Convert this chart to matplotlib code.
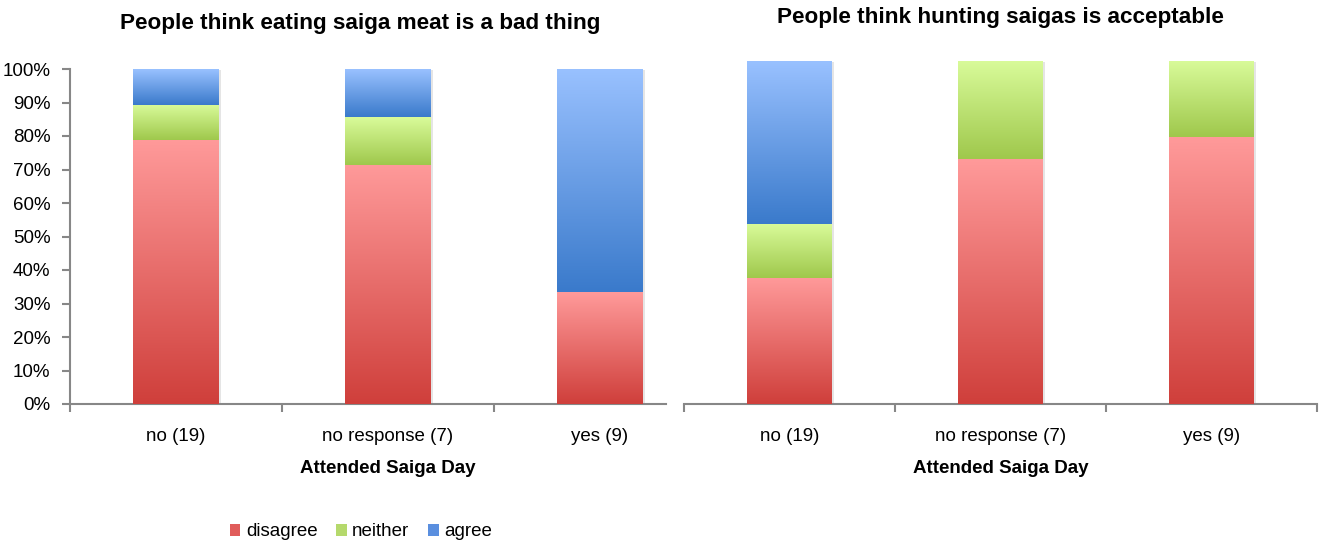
import matplotlib
matplotlib.use("Agg")
import matplotlib.pyplot as plt
import numpy as np
from matplotlib.colors import LinearSegmentedColormap
from matplotlib.patches import Patch

categories = ["no (19)", "no response (7)", "yes (9)"]
series_names = ["disagree", "neither", "agree"]

eating_disagree = [78.9, 71.4, 33.3]
eating_neither = [10.5, 14.3, 0.0]
eating_agree = [10.6, 14.3, 66.7]

hunting_disagree = [36.8, 71.4, 77.8]
hunting_neither = [15.8, 28.6, 22.2]
hunting_agree = [47.4, 0.0, 0.0]

title_left = "People think eating saiga meat is a bad thing"
title_right = "People think hunting saigas is acceptable"
xlabel = "Attended Saiga Day"
yticks = [0, 10, 20, 30, 40, 50, 60, 70, 80, 90, 100]

plt.rcParams['font.family'] = ['Liberation Sans', 'DejaVu Sans']

# gradient colours (bottom, top)
grad = {
    "disagree": ("#cf3f3b", "#ff9a9a"),
    "neither": ("#9fc84c", "#d9fb9a"),
    "agree": ("#3a7acb", "#99c1ff"),
}
legend_colors = {"disagree": "#e05c5a", "neither": "#b5d96c", "agree": "#5a8fdf"}
spine_col = "#878787"

W, H = 1320, 542
fig = plt.figure(figsize=(W / 100, H / 100), dpi=100)


def draw_stack(ax, data, width):
    x = np.arange(len(categories))
    bottom = np.zeros(len(categories))
    for name, vals in zip(series_names, data):
        vals = np.array(vals)
        # subtle shadow
        ax.bar(x + 0.012, vals, width, bottom=bottom - 0.4, color="#000000",
               alpha=0.10, zorder=1, linewidth=0)
        bars = ax.bar(x, vals, width, bottom=bottom, facecolor="none",
                      edgecolor="none", zorder=2)
        cmap = LinearSegmentedColormap.from_list(name, list(grad[name]))
        g = np.linspace(0, 1, 256).reshape(-1, 1)
        for b, v in zip(bars, vals):
            if v <= 0:
                continue
            x0, y0 = b.get_x(), b.get_y()
            w, h = b.get_width(), b.get_height()
            im = ax.imshow(g, cmap=cmap, origin="lower", aspect="auto",
                           extent=[x0, x0 + w, y0, y0 + h], zorder=3,
                           interpolation="bilinear")
            im.set_clip_path(b)
        bottom = bottom + vals
    ax.set_xlim(-0.5, 2.5)
    ax.set_ylim(0, 100)
    ax.set_xticks(x)
    ax.set_xticklabels(categories, fontsize=13.5)
    ax.tick_params(axis="x", which="major", length=0, pad=17)
    ax.set_xticks([-0.5, 0.5, 1.5, 2.5], minor=True)
    ax.tick_params(axis="x", which="minor", length=6, color=spine_col, width=1.5)
    for s in ["top", "right"]:
        ax.spines[s].set_visible(False)
    ax.spines["bottom"].set_color(spine_col)
    ax.spines["bottom"].set_linewidth(1.5)
    ax.spines["left"].set_color(spine_col)
    ax.spines["left"].set_linewidth(1.5)
    ax.set_xlabel(xlabel, fontsize=13.5, fontweight="bold", labelpad=11)
    ax.patch.set_alpha(0)


axL = fig.add_axes([70 / W, (H - 404) / H, 636 / W, 335 / H])
draw_stack(axL, [eating_disagree, eating_neither, eating_agree], 0.405)
axL.set_yticks(yticks)
axL.set_yticklabels([f"{t}%" for t in yticks], fontsize=13.5)
axL.tick_params(axis="y", length=6, color=spine_col, width=1.5, pad=8)
axL.spines["bottom"].set_bounds(-0.5, 2.31)
axL.set_xticks([-0.5, 0.5, 1.5], minor=True)

axR = fig.add_axes([684 / W, (H - 404) / H, 633 / W, 343 / H])
draw_stack(axR, [hunting_disagree, hunting_neither, hunting_agree], 0.4)
axR.spines["left"].set_visible(False)
axR.set_yticks([])

fig.text(360 / W, 1 - 24 / H, title_left, ha="center", va="center",
         fontsize=16.2, fontweight="bold")
fig.text(1000 / W, 1 - 18 / H, title_right, ha="center", va="center",
         fontsize=16.2, fontweight="bold")

handles = [Patch(facecolor=legend_colors[n], edgecolor="none", label=n)
           for n in series_names]
fig.legend(handles=handles, loc="center", bbox_to_anchor=(361 / W, 10 / H),
           ncol=3, frameon=False, fontsize=13.5, handlelength=0.55,
           handleheight=0.55, handletextpad=0.3, columnspacing=1.0)

fig.savefig("out.png", dpi=100)
